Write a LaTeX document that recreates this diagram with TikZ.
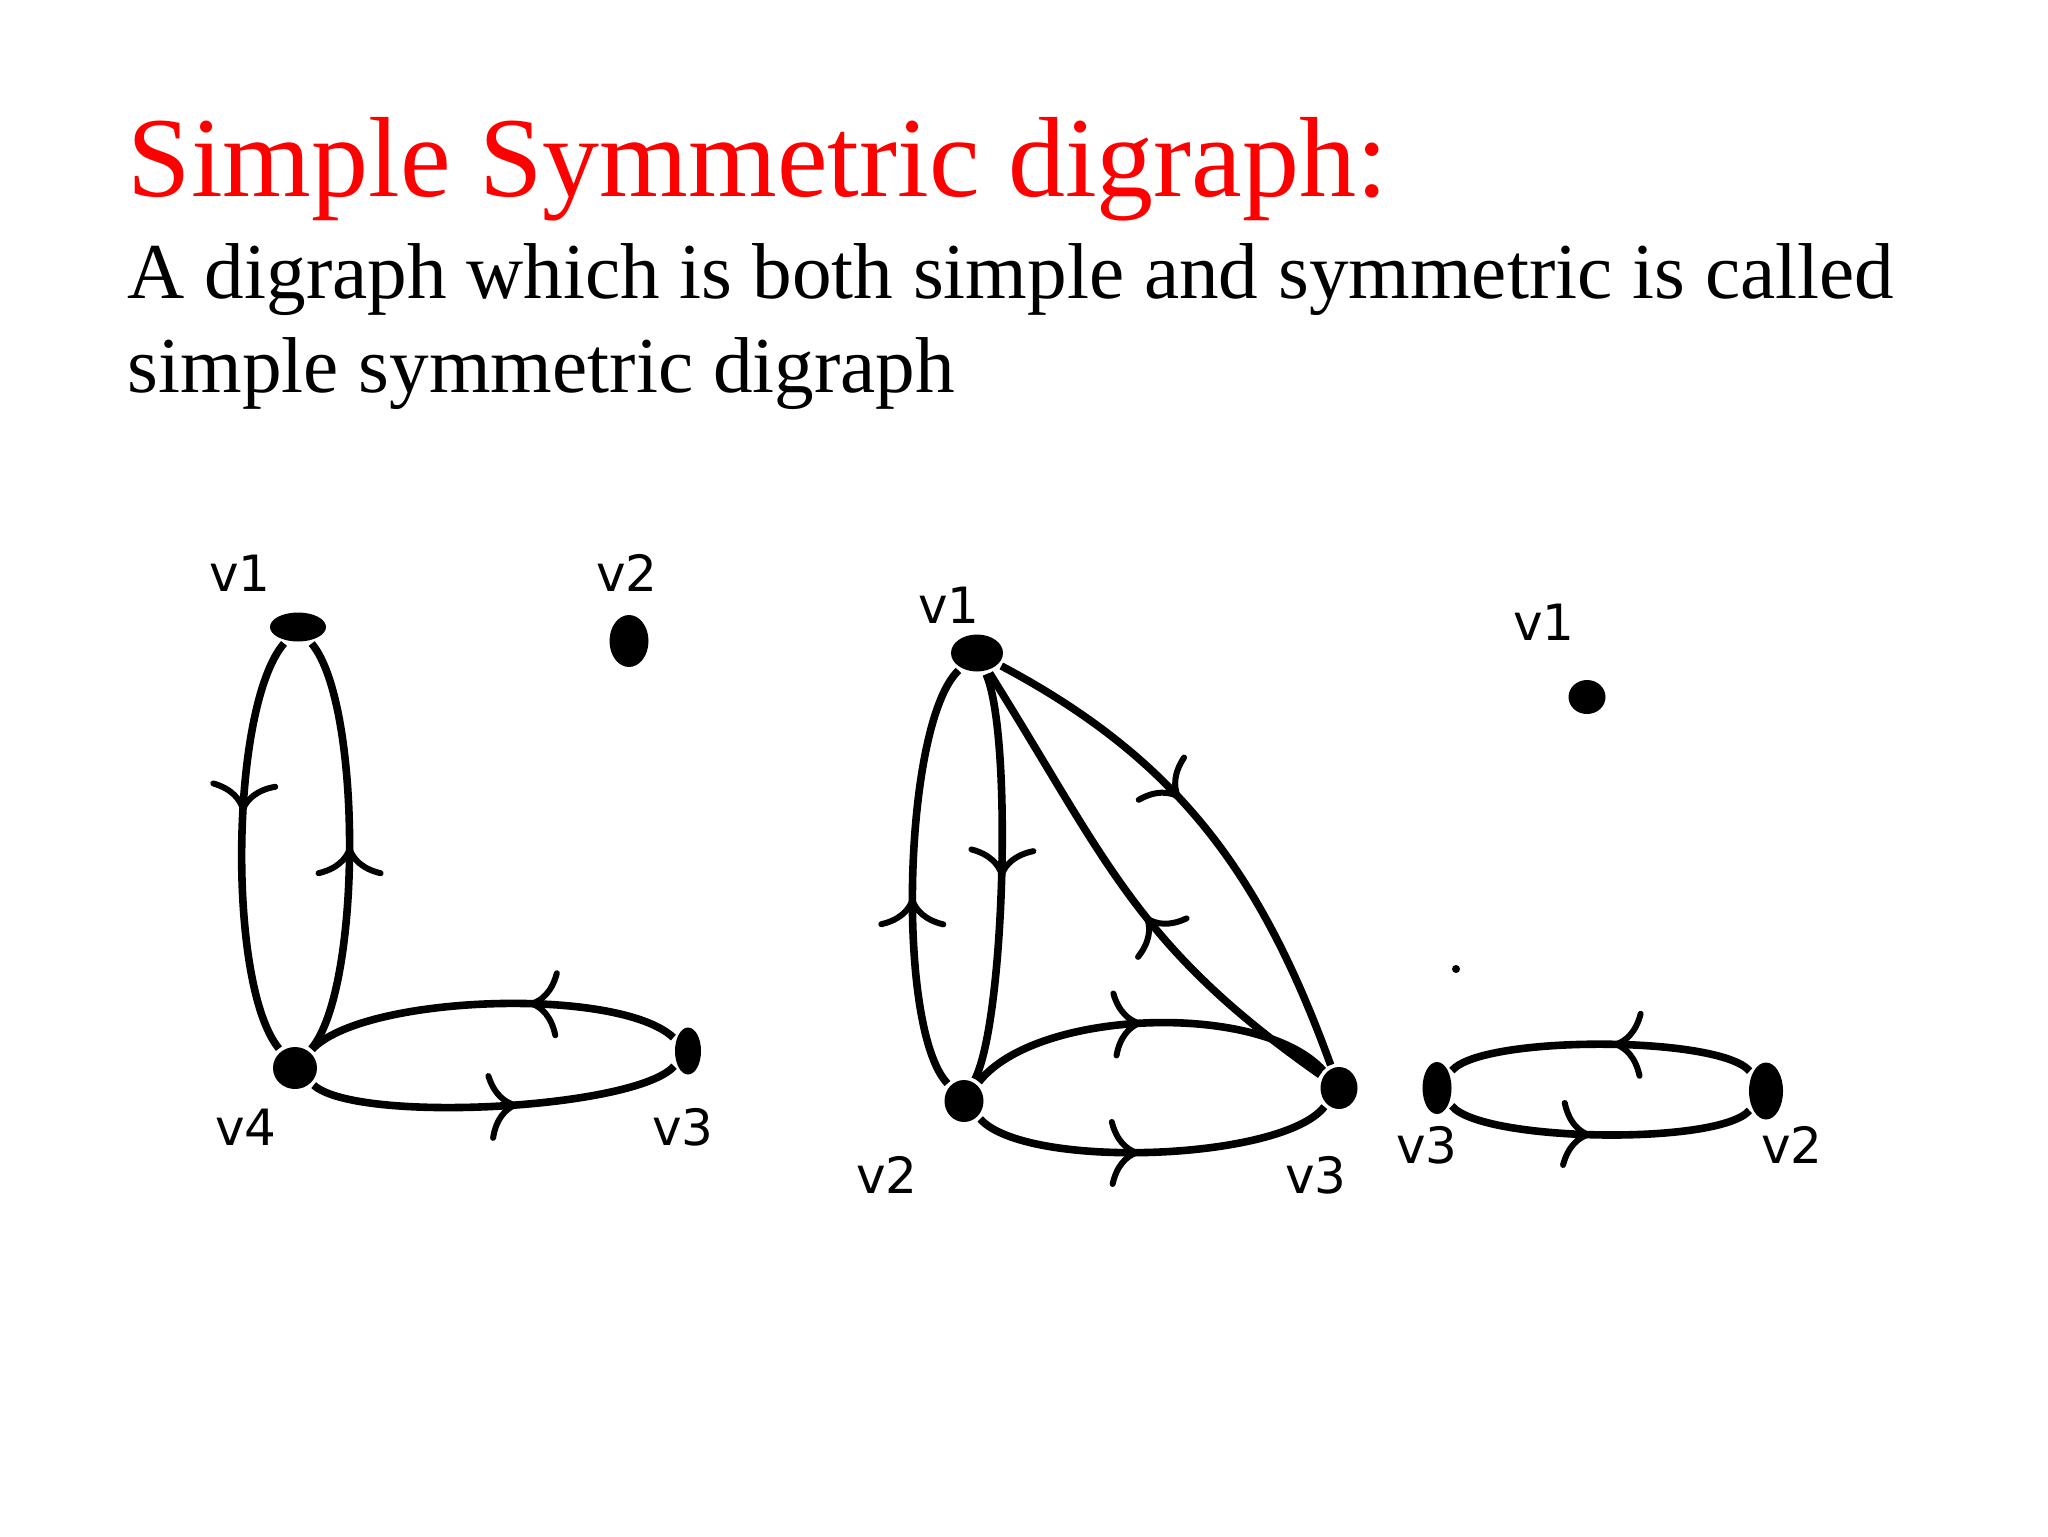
\documentclass[tikz,border=0pt]{standalone}
\usepackage{fontspec}
\setmainfont{Liberation Serif}
\newfontfamily\paintfont{DejaVu Sans}
\usepackage{tikz}
\usetikzlibrary{arrows.meta,decorations.markings,shapes.geometric}

\begin{document}
\begin{tikzpicture}[x=0.5pt,y=-0.5pt,line width=3.8pt,
                    midtip/.style={postaction={decorate},
                      decoration={markings,mark=at position #1 with
                        {\arrow{Computer Modern Rightarrow[length=15pt,width=34pt,line width=3pt]}}}}]

  \tikzstyle{vertex}=[ellipse,fill=black,draw=none,inner sep=0pt]
  \tikzstyle{vname}=[inner sep=0pt,font=\paintfont\fontsize{25}{25}\selectfont]

  \useasboundingbox (0,0) rectangle (2048,1536);

  \node[anchor=base west,text=red,font=\fontsize{57}{57}\selectfont,inner sep=0pt]
       (title) at (124,196) {Simple Symmetric digraph:};
  \node[anchor=base west,font=\fontsize{39.6}{47}\selectfont,inner sep=0pt]
       (line1) at (124,298) {A digraph which is both simple and symmetric is called};
  \node[anchor=base west,font=\fontsize{39.6}{47}\selectfont,inner sep=0pt]
       (line2) at (124,392) {simple symmetric digraph};

  % first digraph
  \node[vertex,minimum width=28pt,minimum height=14.5pt] (A1) at (298,627)  {};
  \node[vertex,minimum width=19.5pt,minimum height=26pt] (A2) at (629,641)  {};
  \node[vertex,minimum width=13pt,minimum height=23.5pt] (A3) at (688,1051) {};
  \node[vertex,minimum width=22pt,minimum height=21pt]   (A4) at (295,1068) {};
  \node[vname] (LA1) at (240,573)  {v1};
  \node[vname] (LA2) at (627,573)  {v2};
  \node[vname] (LA3) at (683,1127) {v3};
  \node[vname] (LA4) at (246,1127) {v4};

  \path (A1) edge[bend right=40,looseness=0.52,midtip=0.42] (A4)
        (A4) edge[bend right=40,looseness=0.5,midtip=0.5]   (A1)
        (A3) edge[bend right=45,looseness=0.53,midtip=0.4]  (A4)
        (A4) edge[bend right=45,looseness=0.41,midtip=0.56] (A3);

  % second digraph
  \node[vertex,minimum width=26pt,minimum height=18.5pt] (B1) at (977,653)   {};
  \node[vertex,minimum width=19.5pt,minimum height=21pt] (B2) at (964,1101)  {};
  \node[vertex,minimum width=18.5pt,minimum height=21pt] (B3) at (1339,1088) {};
  \node[vname] (LB1) at (949,605)   {v1};
  \node[vname] (LB2) at (887,1175)  {v2};
  \node[vname] (LB3) at (1316,1175) {v3};

  \path (B2) edge[bend left=45,looseness=0.47,midtip=0.45]  (B1)
        (B1) edge[bend left=25,looseness=0.42,midtip=0.5]   (B2)
        (B1) edge[out=-28,in=110,midtip=0.42]                 (B3)
        (B3) edge[out=145,in=-58,looseness=1.1,midtip=0.45]  (B1)
        (B2) edge[bend left=50,looseness=0.69,midtip=0.48]  (B3)
        (B2) edge[bend right=50,looseness=0.51,midtip=0.46] (B3);

  % third digraph
  \node[vertex,minimum width=18.5pt,minimum height=17pt] (C1) at (1587,697)  {};
  \node[vertex,minimum width=14.5pt,minimum height=26pt] (C3) at (1437,1088) {};
  \node[vertex,minimum width=17pt,minimum height=28.5pt] (C2) at (1766,1091) {};
  \node[vname] (LC1) at (1544,622)  {v1};
  \node[vname] (LC3) at (1427,1145) {v3};
  \node[vname] (LC2) at (1792,1145) {v2};
  \fill (1456,969) circle (2pt);

  \path (C2) edge[bend right=50,looseness=0.4,midtip=0.46] (C3)
        (C3) edge[bend right=50,looseness=0.4,midtip=0.47] (C2);
\end{tikzpicture}
\end{document}
